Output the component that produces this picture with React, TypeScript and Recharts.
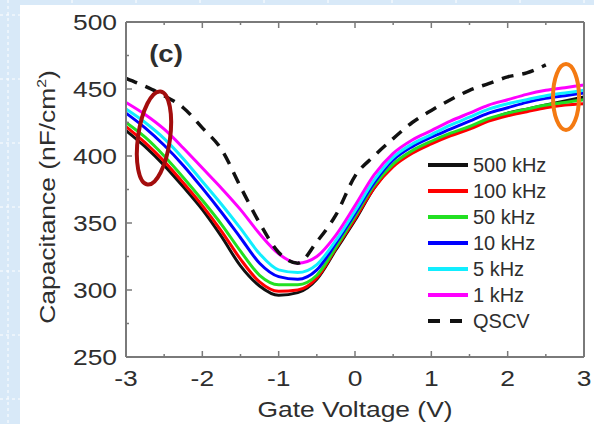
import { LineChart, Line, XAxis, YAxis, Legend } from 'recharts';

// Gate voltage grid (V)
const voltage = [-3, -2.75, -2.5, -2.25, -2, -1.75, -1.5, -1.25, -1, -0.75, -0.5, -0.25, 0, 0.25, 0.5, 0.75, 1, 1.25, 1.5, 1.75, 2, 2.25, 2.5, 2.75, 3];

// Capacitance (nF/cm2) per measurement frequency
const c500k = [419, 407, 393, 377, 360, 340, 318, 303, 296, 298, 308, 330, 352, 376, 393, 403, 410, 416, 421, 427, 432, 435, 438, 441, 444];
const c100k = [422, 410, 396, 380, 363, 344, 323, 306, 299, 300, 309, 331, 353, 376, 392, 402, 409, 415, 420, 426, 430, 433, 436, 438, 439];
const c50k = [425, 414, 400, 384, 367, 349, 329, 311, 304, 304, 311, 332, 355, 378, 394, 404, 411, 417, 422, 428, 432, 435, 438, 440, 442];
const c10k = [432, 421, 408, 393, 376, 358, 339, 320, 310, 308, 315, 335, 357, 380, 397, 407, 414, 420, 426, 432, 436, 440, 443, 445, 447];
const c5k = [435, 425, 413, 398, 381, 364, 346, 327, 315, 313, 319, 337, 359, 382, 399, 409, 416, 423, 429, 435, 439, 442, 445, 447, 449];
const c1k = [440, 431, 420, 406, 391, 376, 360, 342, 327, 320, 325, 341, 363, 386, 402, 412, 419, 426, 432, 438, 442, 446, 449, 451, 453];
const qscv = [458, 452, 445, 436, 421, 405, 377, 350, 328, 320, 336, 356, 385, 400, 413, 425, 434, 442, 449, 454, 459, 462, 468, null, null];

const xTicks = [-3, -2.5, -2, -1.5, -1, -0.5, 0, 0.5, 1, 1.5, 2, 2.5, 3];
const yTicks = [250, 275, 300, 325, 350, 375, 400, 425, 450, 475, 500];

const series = [
  { key: 'f500k', name: '500 kHz', color: '#111111', dash: undefined },
  { key: 'f100k', name: '100 kHz', color: '#ff0000', dash: undefined },
  { key: 'f50k', name: '50 kHz', color: '#22e022', dash: undefined },
  { key: 'f10k', name: '10 kHz', color: '#0000ff', dash: undefined },
  { key: 'f5k', name: '5 kHz', color: '#11eeff', dash: undefined },
  { key: 'f1k', name: '1 kHz', color: '#ff00ff', dash: undefined },
  { key: 'qscv', name: 'QSCV', color: '#111111', dash: '12 9' },
];

const data = voltage.map((v, i) => ({
  v,
  f500k: c500k[i],
  f100k: c100k[i],
  f50k: c50k[i],
  f10k: c10k[i],
  f5k: c5k[i],
  f1k: c1k[i],
  qscv: qscv[i],
}));

const FONT = "Arial, 'Liberation Sans', sans-serif";
const AXIS = '#7a7a7a';
const TEXT = '#2e2e2e';

const BottomTick = (props: any) => {
  const { x, y, payload } = props;
  const major = Number.isInteger(payload.value);
  return (
    <g>
      <line x1={x} x2={x} y1={y} y2={y - (major ? 6 : 3)} stroke={AXIS} strokeWidth={1.5} />
      {major && (
        <text transform={`translate(${x},${y + 29}) scale(1.2,1)`} textAnchor="middle" fontSize={22} fontFamily={FONT} fill={TEXT}>
          {payload.value}
        </text>
      )}
    </g>
  );
};

const TopTick = (props: any) => {
  const { x, y, payload } = props;
  const major = Number.isInteger(payload.value);
  return <line x1={x} x2={x} y1={y} y2={y + (major ? 6 : 3)} stroke={AXIS} strokeWidth={1.5} />;
};

const LeftTick = (props: any) => {
  const { x, y, payload } = props;
  const major = payload.value % 50 === 0;
  return (
    <g>
      <line x1={x} x2={x + (major ? 6 : 3)} y1={y} y2={y} stroke={AXIS} strokeWidth={1.5} />
      {major && (
        <text transform={`translate(${x - 9},${y + 8}) scale(1.2,1)`} textAnchor="end" fontSize={22} fontFamily={FONT} fill={TEXT}>
          {payload.value}
        </text>
      )}
    </g>
  );
};

const RightTick = (props: any) => {
  const { x, y, payload } = props;
  const major = payload.value % 50 === 0;
  return <line x1={x} x2={x - (major ? 6 : 3)} y1={y} y2={y} stroke={AXIS} strokeWidth={1.5} />;
};

const LegendBox = () => (
  <svg width={170} height={200} style={{ display: 'block' }}>
    {series.map((s, i) => {
      const cy = 15 + i * 26;
      return (
        <g key={s.key}>
          <line x1={8} x2={48} y1={cy} y2={cy} stroke={s.color} strokeWidth={4} strokeDasharray={s.dash ? '12 10' : undefined} />
          <text x={53} y={cy + 7} fontSize={20} fontFamily={FONT} fill={TEXT}>
            {s.name}
          </text>
        </g>
      );
    })}
  </svg>
);

const gridX = [8, 72, 136, 200, 264, 328, 392, 456, 520, 584];
const gridY = [15, 79, 143, 207, 271, 335, 399];

export default function App() {
  return (
    <div style={{ position: 'absolute', left: 0, top: 0, width: 594, height: 424, background: '#d8e9f8', overflow: 'hidden' }}>
      <svg width={594} height={424} style={{ position: 'absolute', left: 0, top: 0 }}>
        {gridX.map((gx) => (
          <line key={'gx' + gx} x1={gx} x2={gx} y1={0} y2={424} stroke="#ffffff" strokeWidth={1} strokeDasharray="3 3" />
        ))}
        {gridY.map((gy) => (
          <line key={'gy' + gy} x1={0} x2={594} y1={gy} y2={gy} stroke="#ffffff" strokeWidth={1} strokeDasharray="3 3" />
        ))}
      </svg>
      <div style={{ position: 'absolute', left: 20, top: 5, width: 574, height: 419, background: '#ffffff' }} />
      <div style={{ position: 'absolute', left: 0, top: 0 }}>
        <LineChart width={594} height={424} data={data} margin={{ top: 21, right: 9, bottom: 66, left: 125 }}>
          <XAxis
            xAxisId="bottom"
            dataKey="v"
            type="number"
            domain={[-3, 3]}
            ticks={xTicks}
            interval={0}
            height={1}
            tickSize={0}
            tickMargin={0}
            tickLine={false}
            axisLine={{ stroke: AXIS, strokeWidth: 2 }}
            tick={<BottomTick />}
          />
          <XAxis
            xAxisId="top"
            orientation="top"
            dataKey="v"
            type="number"
            domain={[-3, 3]}
            ticks={xTicks}
            interval={0}
            height={1}
            tickSize={0}
            tickMargin={0}
            tickLine={false}
            axisLine={{ stroke: AXIS, strokeWidth: 2 }}
            tick={<TopTick />}
          />
          <YAxis
            yAxisId="left"
            type="number"
            domain={[250, 500]}
            ticks={yTicks}
            interval={0}
            width={1}
            tickSize={0}
            tickMargin={0}
            tickLine={false}
            axisLine={{ stroke: AXIS, strokeWidth: 2 }}
            tick={<LeftTick />}
          />
          <YAxis
            yAxisId="right"
            orientation="right"
            type="number"
            domain={[250, 500]}
            ticks={yTicks}
            interval={0}
            width={1}
            tickSize={0}
            tickMargin={0}
            tickLine={false}
            axisLine={{ stroke: AXIS, strokeWidth: 2 }}
            tick={<RightTick />}
          />
          {series.map((s) => (
            <Line
              key={s.key}
              xAxisId="bottom"
              yAxisId="left"
              type="monotone"
              dataKey={s.key}
              name={s.name}
              stroke={s.color}
              strokeWidth={s.dash ? 3.5 : 3}
              strokeDasharray={s.dash}
              dot={false}
              activeDot={false}
              connectNulls={false}
              isAnimationActive={false}
            />
          ))}
          <Legend
            layout="vertical"
            align="center"
            verticalAlign="middle"
            wrapperStyle={{ left: 420, top: 150, width: 170 }}
            content={<LegendBox />}
          />
        </LineChart>
      </div>
      <svg width={594} height={424} style={{ position: 'absolute', left: 0, top: 0, pointerEvents: 'none' }}>
        <text transform="translate(355,417) scale(1.2,1)" textAnchor="middle" fontSize={22} fontFamily={FONT} fill={TEXT}>
          Gate Voltage (V)
        </text>
        <text transform="translate(55,197) rotate(-90) scale(1.2,1)" textAnchor="middle" fontSize={22} fontFamily={FONT} fill={TEXT}>
          Capacitance (nF/cm
          <tspan fontSize={13} dy={-9}>2</tspan>
          <tspan dy={9}>)</tspan>
        </text>
        <text transform="translate(166,62) scale(1.15,1)" textAnchor="middle" fontSize={24} fontWeight="bold" fontFamily={FONT} fill={TEXT}>
          (c)
        </text>
        <ellipse cx={154} cy={138} rx={16} ry={47} transform="rotate(8 154 138)" fill="none" stroke="#a30d0d" strokeWidth={4} />
        <ellipse cx={566} cy={97} rx={13} ry={33} fill="none" stroke="#f47a12" strokeWidth={4} />
      </svg>
    </div>
  );
}
